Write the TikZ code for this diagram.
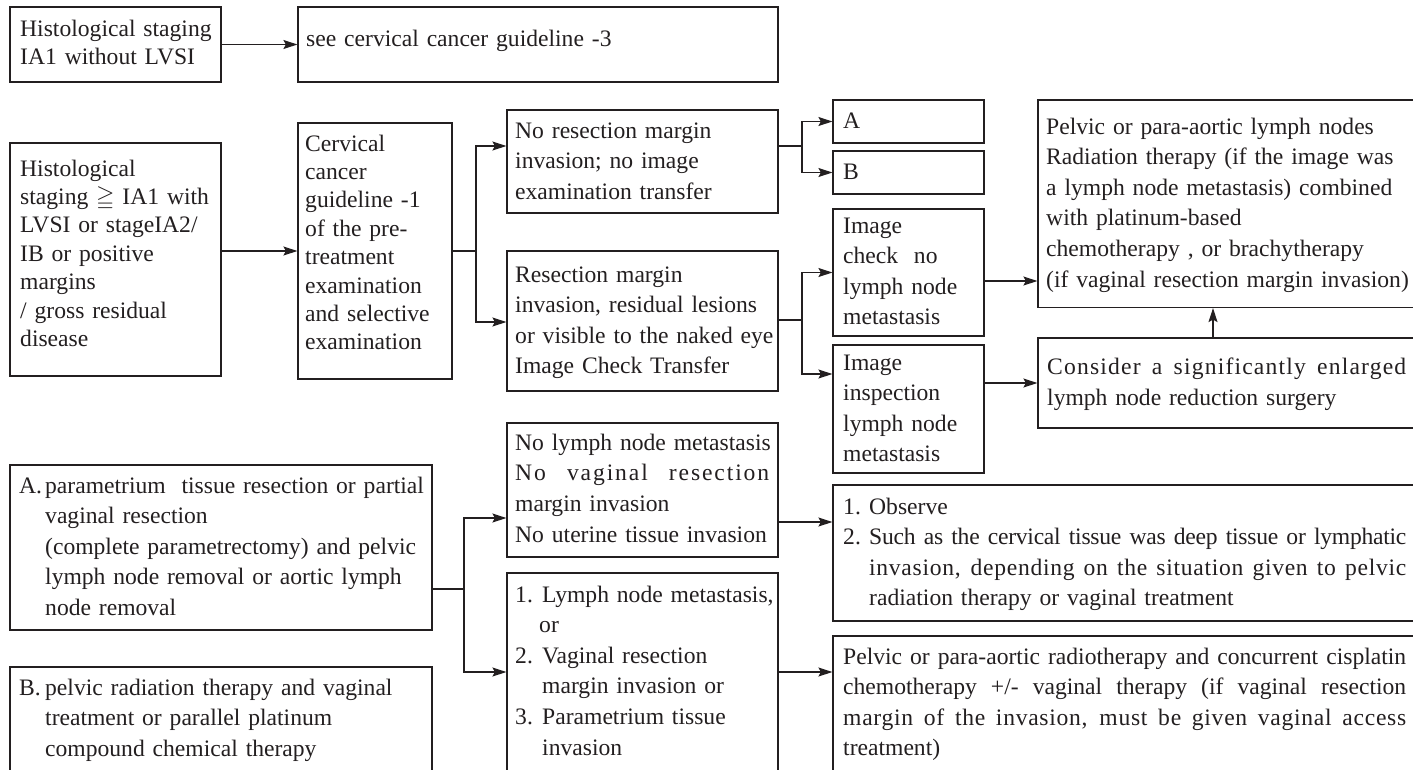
\documentclass[tikz,border=0pt]{standalone}
\usepackage{amssymb}
\usepackage{fontspec}
\setmainfont{Liberation Serif}
\usetikzlibrary{arrows.meta,fit}

\definecolor{ink}{RGB}{35,31,32}
% a justified line: its inter-word spaces stretch to fill the given width
\newcommand{\spreadline}[2]{\leavevmode\hbox to #1{\spaceskip=0.25em plus 1fil minus 0.1em\relax #2}}

\begin{document}
\begin{tikzpicture}[x=1pt,y=-1pt,
  flowframe/.style={draw=ink, line width=1.2pt, inner sep=0pt},
  flowtext/.style={anchor=base west, inner sep=0pt, align=left, text=ink,
                   font=\fontsize{23.6}{30.5}\selectfont},
  tightlines/.style={font=\fontsize{23.6}{28.4}\selectfont},
  flowline/.style={draw=ink, line width=1.2pt},
  flowarrow/.style={draw=ink, line width=1.2pt,
                    -{Stealth[length=14pt,width=9pt,inset=2.5pt]}}]

\useasboundingbox (0,0) rectangle (1413,769);
\fill[white] (0,0) rectangle (1413,769);
\clip (0,0) rectangle (1413,769);

% ---------- boxes ----------
\node[flowframe, fit={(10,7) (221,82)}]      (b1) {};
\node[flowframe, fit={(298,7) (778,82)}]     (b2) {};
\node[flowframe, fit={(10,143) (221,376)}]   (b3) {};
\node[flowframe, fit={(298,123) (452,379)}]  (b4) {};
\node[flowframe, fit={(507,110) (778,213)}]  (b5) {};
\node[flowframe, fit={(507,251) (778,391)}]  (b6) {};
\node[flowframe, fit={(833,100) (984,143)}]  (ba) {};
\node[flowframe, fit={(833,151) (984,194)}]  (bb) {};
\node[flowframe, fit={(833,209) (984,336)}]  (chk) {};
\node[flowframe, fit={(833,345) (984,473)}]  (insp) {};
\node[flowframe, fit={(1038,100) (1420,307.5)}] (pel) {};
\node[flowframe, fit={(1038,338) (1420,428)}]   (cons) {};
\node[flowframe, fit={(10,465) (432,630)}]   (abox) {};
\node[flowframe, fit={(10,667) (432,790)}]   (bbox) {};
\node[flowframe, fit={(507,423) (778,557)}]  (nol) {};
\node[flowframe, fit={(507,573) (778,790)}]  (lst) {};
\node[flowframe, fit={(833,485) (1420,621)}] (obs) {};
\node[flowframe, fit={(833,636) (1420,790)}] (bot) {};

% ---------- texts ----------
\node[flowtext, tightlines, text width=200pt] (b1t) at (20,36)
  {Histological staging\\IA1 without LVSI};
\node[flowtext, text width=460pt] (b2t) at (306,46)
  {see cervical cancer guideline -3};
\node[flowtext, tightlines, text width=200pt] (b3t) at (20,176)
  {Histological\\staging $\geqq$ IA1 with\\LVSI or stageIA2/\\IB or positive\\margins\\/ gross residual\\disease};
\node[flowtext, tightlines, text width=142pt] (b4t) at (305,151)
  {Cervical\\cancer\\guideline -1\\of the pre-\\treatment\\examination\\and selective\\examination};
\node[flowtext, text width=260pt] (b5t) at (515,138)
  {No resection margin\\invasion; no image\\examination transfer};
\node[flowtext, text width=260pt] (b6t) at (515,282)
  {Resection margin\\invasion, residual lesions\\or visible to the naked eye\\Image Check Transfer};
\node[flowtext, text width=140pt] (bat) at (843,128) {A};
\node[flowtext, text width=140pt] (bbt) at (843,179) {B};
\node[flowtext, text width=140pt] (chkt) at (843,233)
  {Image\\check\ \ no\\lymph node\\metastasis};
\node[flowtext, text width=140pt] (inspt) at (843,370)
  {Image\\inspection\\lymph node\\metastasis};
\node[flowtext, font=\fontsize{23.6}{30.6}\selectfont, text width=365pt] (pelt) at (1046,134)
  {Pelvic or para-aortic lymph nodes\\Radiation therapy (if the image was\\a lymph node metastasis) combined\\with platinum-based\\chemotherapy , or brachytherapy\\(if vaginal resection margin invasion)};
\node[flowtext, font=\fontsize{23.6}{31}\selectfont, text width=365pt] (const) at (1047,374)
  {\spreadline{359pt}{\addfontfeature{LetterSpace=5}Consider a significantly enlarged}\\lymph node reduction surgery};
\node[flowtext, text width=415pt] (aboxt) at (19,493)
  {\makebox[26pt][l]{A.}parametrium\ \ tissue resection or partial\\
   \hspace*{26pt}vaginal resection\\
   \hspace*{26pt}(complete parametrectomy) and pelvic\\
   \hspace*{26pt}lymph node removal or aortic lymph\\
   \hspace*{26pt}node removal};
\node[flowtext, font=\fontsize{23.6}{30.8}\selectfont, text width=415pt] (bboxt) at (19,695)
  {\makebox[26pt][l]{B.}pelvic radiation therapy and vaginal\\
   \hspace*{26pt}treatment or parallel platinum\\
   \hspace*{26pt}compound chemical therapy};
\node[flowtext, font=\fontsize{23.6}{30.7}\selectfont, text width=262pt] (nolt) at (515,450)
  {No lymph node metastasis\\
   \spreadline{254pt}{\addfontfeature{LetterSpace=8}No vaginal resection}\\
   margin invasion\\No uterine tissue invasion};
\node[flowtext, font=\fontsize{23.6}{30.6}\selectfont, text width=262pt] (lstt) at (515,602)
  {\makebox[27pt][l]{1.}Lymph node metastasis,\\
   \hspace*{24pt}or\\
   \makebox[27pt][l]{2.}Vaginal resection\\
   \hspace*{27pt}margin invasion or\\
   \makebox[27pt][l]{3.}Parametrium tissue\\
   \hspace*{27pt}invasion};
\node[flowtext, text width=570pt] (obst) at (843,514)
  {\makebox[26pt][l]{1.}Observe\\
   \makebox[26pt][l]{2.}\spreadline{537pt}{\addfontfeature{LetterSpace=-1.2}Such as the cervical tissue was deep tissue or lymphatic}\\
   \hspace*{26pt}\spreadline{537pt}{\addfontfeature{LetterSpace=3}invasion, depending on the situation given to pelvic}\\
   \hspace*{26pt}radiation therapy or vaginal treatment};
\node[flowtext, text width=570pt] (bott) at (843,664)
  {\spreadline{563pt}{Pelvic or para-aortic radiotherapy and concurrent cisplatin}\\
   \spreadline{563pt}{chemotherapy +/- vaginal therapy (if vaginal resection}\\
   \spreadline{563pt}{\addfontfeature{LetterSpace=3}margin of the invasion, must be given vaginal access}\\
   treatment)};

% ---------- branch points and levels ----------
\coordinate (s1) at (476,251);
\coordinate (s2) at (802,146);
\coordinate (s3) at (802,320);
\coordinate (s4) at (464,589);
\coordinate (y146) at (0,146);
\coordinate (y322) at (0,322);
\coordinate (y374) at (0,374);
\coordinate (y281) at (0,281);
\coordinate (y518) at (0,518);
\coordinate (y522) at (0,522);
\coordinate (y672) at (0,672);
\coordinate (x1213) at (1213,0);

% ---------- connectors ----------
\draw[flowarrow] (b1.east) -- (b2.west);
\draw[flowarrow] (b3.east |- b4.west) -- (b4.west);

\draw[flowline]  (b4.east |- s1) -- (s1);
\draw[flowarrow] (s1) |- (b5.west |- y146);
\draw[flowarrow] (s1) |- (b6.west |- y322);

\draw[flowline]  (b5.east |- s2) -- (s2);
\draw[flowarrow] (s2) |- (ba.west);
\draw[flowarrow] (s2) |- (bb.west);

\draw[flowline]  (b6.east |- s3) -- (s3);
\draw[flowarrow] (s3) |- (chk.west);
\draw[flowarrow] (s3) |- (insp.west |- y374);

\draw[flowarrow] (chk.east |- y281) -- (pel.west |- y281);
\draw[flowarrow] (insp.east |- cons.west) -- (cons.west);
\draw[flowarrow] (cons.north -| x1213) -- (pel.south -| x1213);

\draw[flowline]  (abox.east |- s4) -- (s4);
\draw[flowarrow] (s4) |- (nol.west |- y518);
\draw[flowarrow] (s4) |- (lst.west |- y672);

\draw[flowarrow] (nol.east |- y522) -- (obs.west |- y522);
\draw[flowarrow] (lst.east |- y672) -- (bot.west |- y672);
\end{tikzpicture}
\end{document}
